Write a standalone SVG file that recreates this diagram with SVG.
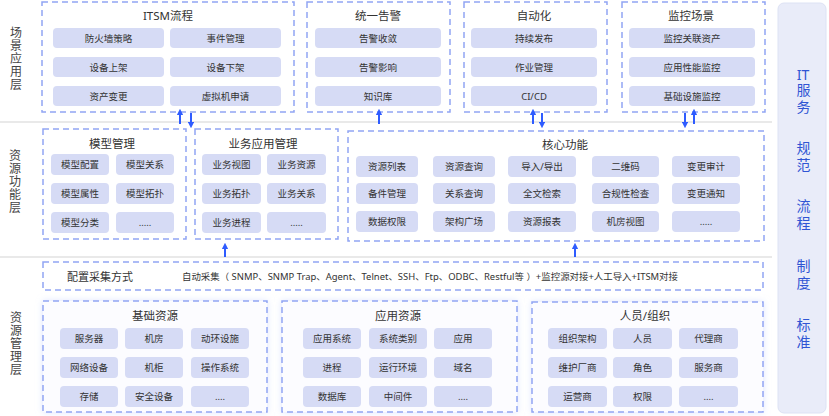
<svg xmlns="http://www.w3.org/2000/svg" width="829" height="416" viewBox="0 0 829 416">
<defs>
<style>
text{font-family:"Noto Sans","Noto Sans CJK SC",sans-serif;fill:#333;}
.box{fill:#fff;stroke:#91a5f4;stroke-width:1.5;stroke-dasharray:6 4;}
.rbox{fill:#fcfcff;stroke:#91a5f4;stroke-width:1.5;stroke-dasharray:6 4;filter:url(#glow);}
.it rect{fill:#d6dbf5;}
.it text{font-size:9.5px;text-anchor:middle;dominant-baseline:central;}
.ttl{font-size:11.5px;text-anchor:middle;dominant-baseline:central;}
.lbl{font-size:12px;writing-mode:vertical-rl;text-orientation:upright;letter-spacing:1.2px;fill:#444;}
.side{font-size:14px;fill:#2f55d4;}
.sv{writing-mode:vertical-rl;text-orientation:upright;letter-spacing:2.5px;}
.sep{stroke:#e2e2e2;stroke-width:1.5;}
.arr{stroke:#2f5cff;stroke-width:2;marker-end:url(#ah);}
</style>
<marker id="ah" viewBox="0 0 10 10" refX="5" refY="5" markerWidth="3.2" markerHeight="3.2" orient="auto"><path d="M0,0 L10,5 L0,10 Z" fill="#2f5cff"/></marker>
<filter id="glow" x="-10%" y="-20%" width="120%" height="140%"><feDropShadow dx="0" dy="0" stdDeviation="3" flood-color="#c9d3ff" flood-opacity="0.6"/></filter>
</defs>
<rect width="829" height="416" fill="#fff"/>
<line class="sep" x1="0" y1="122" x2="772" y2="122"/>
<line class="sep" x1="0" y1="257" x2="772" y2="257"/>
<g id="layer-labels">
<text class="lbl" x="15" y="26">场景应用层</text>
<text class="lbl" x="14" y="149">资源功能层</text>
<text class="lbl" x="15" y="311">资源管理层</text>
</g>
<g id="it-service">
<rect x="778" y="3" width="48" height="410" rx="6" fill="#e9ecf9" stroke="#dde2f4"/>
<text class="side" x="803" y="74" text-anchor="middle" dominant-baseline="central">IT</text>
<text class="side sv" x="803" y="83">服务</text>
<text class="side sv" x="803" y="141">规范</text>
<text class="side sv" x="803" y="199">流程</text>
<text class="side sv" x="803" y="259">制度</text>
<text class="side sv" x="803" y="318">标准</text>
</g>
<g id="itsm">
<rect class="box" x="42" y="2" width="252" height="110"/>
<text class="ttl" x="168" y="15">ITSM流程</text>
<g class="it"><rect x="53" y="28" width="111" height="20" rx="4"/><text x="108.5" y="38">防火墙策略</text></g>
<g class="it"><rect x="170" y="28" width="111" height="20" rx="4"/><text x="225.5" y="38">事件管理</text></g>
<g class="it"><rect x="53" y="57" width="111" height="20" rx="4"/><text x="108.5" y="67">设备上架</text></g>
<g class="it"><rect x="170" y="57" width="111" height="20" rx="4"/><text x="225.5" y="67">设备下架</text></g>
<g class="it"><rect x="53" y="86" width="111" height="20" rx="4"/><text x="108.5" y="96">资产变更</text></g>
<g class="it"><rect x="170" y="86" width="111" height="20" rx="4"/><text x="225.5" y="96">虚拟机申请</text></g>
</g>
<g id="alarm">
<rect class="box" x="307" y="2" width="143" height="110"/>
<text class="ttl" x="378" y="15">统一告警</text>
<g class="it"><rect x="315" y="28" width="126" height="20" rx="4"/><text x="378" y="38">告警收敛</text></g>
<g class="it"><rect x="315" y="57" width="126" height="20" rx="4"/><text x="378" y="67">告警影响</text></g>
<g class="it"><rect x="315" y="86" width="126" height="20" rx="4"/><text x="378" y="96">知识库</text></g>
</g>
<g id="automation">
<rect class="box" x="464" y="2" width="143" height="110"/>
<text class="ttl" x="534" y="15">自动化</text>
<g class="it"><rect x="471" y="28" width="126" height="20" rx="4"/><text x="534" y="38">持续发布</text></g>
<g class="it"><rect x="471" y="57" width="126" height="20" rx="4"/><text x="534" y="67">作业管理</text></g>
<g class="it"><rect x="471" y="86" width="126" height="20" rx="4"/><text x="534" y="96">CI/CD</text></g>
</g>
<g id="monitor">
<rect class="box" x="622" y="2" width="143" height="110"/>
<text class="ttl" x="691" y="15">监控场景</text>
<g class="it"><rect x="629" y="28" width="126" height="20" rx="4"/><text x="692" y="38">监控关联资产</text></g>
<g class="it"><rect x="629" y="57" width="126" height="20" rx="4"/><text x="692" y="67">应用性能监控</text></g>
<g class="it"><rect x="629" y="86" width="126" height="20" rx="4"/><text x="692" y="96">基础设施监控</text></g>
</g>
<g id="model">
<rect class="box" x="43" y="129" width="143" height="110"/>
<text class="ttl" x="112" y="143">模型管理</text>
<g class="it"><rect x="51" y="154" width="58" height="21" rx="4"/><text x="80" y="164.5">模型配置</text></g>
<g class="it"><rect x="116" y="154" width="58" height="21" rx="4"/><text x="145" y="164.5">模型关系</text></g>
<g class="it"><rect x="51" y="183" width="58" height="21" rx="4"/><text x="80" y="193.5">模型属性</text></g>
<g class="it"><rect x="116" y="183" width="58" height="21" rx="4"/><text x="145" y="193.5">模型拓扑</text></g>
<g class="it"><rect x="51" y="212" width="58" height="21" rx="4"/><text x="80" y="222.5">模型分类</text></g>
<g class="it"><rect x="116" y="212" width="58" height="21" rx="4"/><text x="145" y="222.5">.....</text></g>
</g>
<g id="bizapp">
<rect class="box" x="195" y="129" width="143" height="110"/>
<text class="ttl" x="263" y="143">业务应用管理</text>
<g class="it"><rect x="202" y="154" width="59" height="21" rx="4"/><text x="231.5" y="164.5">业务视图</text></g>
<g class="it"><rect x="267" y="154" width="59" height="21" rx="4"/><text x="296.5" y="164.5">业务资源</text></g>
<g class="it"><rect x="202" y="183" width="59" height="21" rx="4"/><text x="231.5" y="193.5">业务拓扑</text></g>
<g class="it"><rect x="267" y="183" width="59" height="21" rx="4"/><text x="296.5" y="193.5">业务关系</text></g>
<g class="it"><rect x="202" y="212" width="59" height="21" rx="4"/><text x="231.5" y="222.5">业务进程</text></g>
<g class="it"><rect x="267" y="212" width="59" height="21" rx="4"/><text x="296.5" y="222.5">.....</text></g>
</g>
<g id="core">
<rect class="box" x="348" y="131" width="416" height="110"/>
<text class="ttl" x="565" y="144">核心功能</text>
<g class="it"><rect x="356" y="156" width="62" height="21" rx="4"/><text x="387" y="166.5">资源列表</text></g>
<g class="it"><rect x="433" y="156" width="62" height="21" rx="4"/><text x="464" y="166.5">资源查询</text></g>
<g class="it"><rect x="508" y="156" width="68" height="21" rx="4"/><text x="542" y="166.5">导入/导出</text></g>
<g class="it"><rect x="592" y="156" width="67" height="21" rx="4"/><text x="625.5" y="166.5">二维码</text></g>
<g class="it"><rect x="672" y="156" width="68" height="21" rx="4"/><text x="706" y="166.5">变更审计</text></g>
<g class="it"><rect x="356" y="183" width="62" height="21" rx="4"/><text x="387" y="193.5">备件管理</text></g>
<g class="it"><rect x="433" y="183" width="62" height="21" rx="4"/><text x="464" y="193.5">关系查询</text></g>
<g class="it"><rect x="508" y="183" width="68" height="21" rx="4"/><text x="542" y="193.5">全文检索</text></g>
<g class="it"><rect x="592" y="183" width="67" height="21" rx="4"/><text x="625.5" y="193.5">合规性检查</text></g>
<g class="it"><rect x="672" y="183" width="68" height="21" rx="4"/><text x="706" y="193.5">变更通知</text></g>
<g class="it"><rect x="356" y="211" width="62" height="21" rx="4"/><text x="387" y="221.5">数据权限</text></g>
<g class="it"><rect x="433" y="211" width="62" height="21" rx="4"/><text x="464" y="221.5">架构广场</text></g>
<g class="it"><rect x="508" y="211" width="68" height="21" rx="4"/><text x="542" y="221.5">资源报表</text></g>
<g class="it"><rect x="592" y="211" width="67" height="21" rx="4"/><text x="625.5" y="221.5">机房视图</text></g>
<g class="it"><rect x="672" y="211" width="68" height="21" rx="4"/><text x="706" y="221.5">.....</text></g>
</g>
<g id="collect">
<rect class="box" x="43" y="262" width="720" height="28"/>
<text x="67" y="276.5" font-size="11" dominant-baseline="central">配置采集方式</text>
<text x="182" y="276.5" font-size="9" dominant-baseline="central" textLength="496" lengthAdjust="spacingAndGlyphs">自动采集（ SNMP、SNMP Trap、Agent、Telnet、SSH、Ftp、ODBC、Restful等 ）+监控源对接+人工导入+ITSM对接</text>
</g>
<g id="infra">
<rect class="rbox" x="43" y="301" width="224" height="111"/>
<text class="ttl" x="155" y="315">基础资源</text>
<g class="it"><rect x="60" y="328" width="58" height="21" rx="4"/><text x="89" y="338.5">服务器</text></g>
<g class="it"><rect x="125" y="328" width="58" height="21" rx="4"/><text x="154" y="338.5">机房</text></g>
<g class="it"><rect x="191" y="328" width="58" height="21" rx="4"/><text x="220" y="338.5">动环设施</text></g>
<g class="it"><rect x="60" y="357" width="58" height="21" rx="4"/><text x="89" y="367.5">网络设备</text></g>
<g class="it"><rect x="125" y="357" width="58" height="21" rx="4"/><text x="154" y="367.5">机柜</text></g>
<g class="it"><rect x="191" y="357" width="58" height="21" rx="4"/><text x="220" y="367.5">操作系统</text></g>
<g class="it"><rect x="60" y="386" width="58" height="21" rx="4"/><text x="89" y="396.5">存储</text></g>
<g class="it"><rect x="125" y="386" width="58" height="21" rx="4"/><text x="154" y="396.5">安全设备</text></g>
<g class="it"><rect x="191" y="386" width="58" height="21" rx="4"/><text x="220" y="396.5">....</text></g>
</g>
<g id="appres">
<rect class="rbox" x="282" y="301" width="235" height="111"/>
<text class="ttl" x="398" y="315">应用资源</text>
<g class="it"><rect x="303" y="328" width="58" height="21" rx="4"/><text x="332" y="338.5">应用系统</text></g>
<g class="it"><rect x="369" y="328" width="58" height="21" rx="4"/><text x="398" y="338.5">系统类别</text></g>
<g class="it"><rect x="434" y="328" width="58" height="21" rx="4"/><text x="463" y="338.5">应用</text></g>
<g class="it"><rect x="303" y="357" width="58" height="21" rx="4"/><text x="332" y="367.5">进程</text></g>
<g class="it"><rect x="369" y="357" width="58" height="21" rx="4"/><text x="398" y="367.5">运行环境</text></g>
<g class="it"><rect x="434" y="357" width="58" height="21" rx="4"/><text x="463" y="367.5">域名</text></g>
<g class="it"><rect x="303" y="386" width="58" height="21" rx="4"/><text x="332" y="396.5">数据库</text></g>
<g class="it"><rect x="369" y="386" width="58" height="21" rx="4"/><text x="398" y="396.5">中间件</text></g>
<g class="it"><rect x="434" y="386" width="58" height="21" rx="4"/><text x="463" y="396.5">....</text></g>
</g>
<g id="people">
<rect class="rbox" x="532" y="302" width="231" height="110"/>
<text class="ttl" x="645" y="315">人员/组织</text>
<g class="it"><rect x="548" y="328" width="59" height="21" rx="4"/><text x="577.5" y="338.5">组织架构</text></g>
<g class="it"><rect x="613" y="328" width="59" height="21" rx="4"/><text x="642.5" y="338.5">人员</text></g>
<g class="it"><rect x="679" y="328" width="59" height="21" rx="4"/><text x="708.5" y="338.5">代理商</text></g>
<g class="it"><rect x="548" y="357" width="59" height="21" rx="4"/><text x="577.5" y="367.5">维护厂商</text></g>
<g class="it"><rect x="613" y="357" width="59" height="21" rx="4"/><text x="642.5" y="367.5">角色</text></g>
<g class="it"><rect x="679" y="357" width="59" height="21" rx="4"/><text x="708.5" y="367.5">服务商</text></g>
<g class="it"><rect x="548" y="386" width="59" height="21" rx="4"/><text x="577.5" y="396.5">运营商</text></g>
<g class="it"><rect x="613" y="386" width="59" height="21" rx="4"/><text x="642.5" y="396.5">权限</text></g>
<g class="it"><rect x="679" y="386" width="59" height="21" rx="4"/><text x="708.5" y="396.5">....</text></g>
</g>
<g id="connectors">
<line class="arr" x1="180" y1="124" x2="180" y2="112"/>
<line class="arr" x1="191" y1="113" x2="191" y2="125"/>
<line class="arr" x1="379" y1="124" x2="379" y2="112"/>
<line class="arr" x1="533" y1="124" x2="533" y2="112"/>
<line class="arr" x1="542" y1="113" x2="542" y2="125"/>
<line class="arr" x1="685" y1="113" x2="685" y2="125"/>
<line class="arr" x1="694" y1="124" x2="694" y2="112"/>
<line class="arr" x1="225" y1="257" x2="225" y2="246"/>
<line class="arr" x1="575" y1="257" x2="575" y2="246"/>
</g>
</svg>
